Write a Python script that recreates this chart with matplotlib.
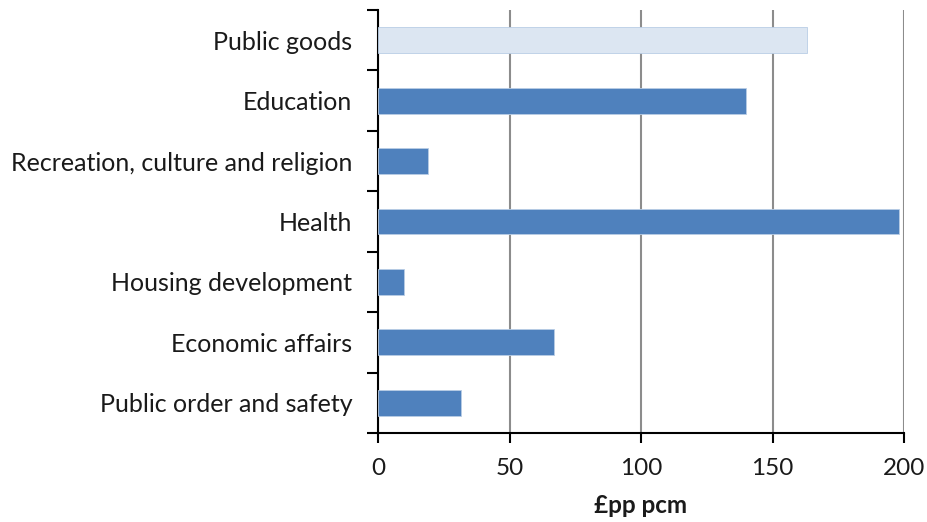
import matplotlib.pyplot as plt

categories = ["Public order and safety", "Economic affairs", "Housing development",
              "Health", "Recreation, culture and religion", "Education", "Public goods"]
values = [31.5, 67, 10, 198, 19, 140, 163]
colors = ["#4F81BD"] * 6 + ["#DCE6F2"]
xticks = [0, 50, 100, 150, 200]

plt.rcParams['font.family'] = ['Lato', 'DejaVu Sans']

fig = plt.figure(figsize=(9.28, 5.22), dpi=100)
ax = fig.add_axes([378 / 928, 1 - 433 / 522, 526 / 928, 423 / 522])

ypos = range(len(categories))
ax.barh(ypos, values, height=0.43, color=colors, edgecolor="#B9CDE5", linewidth=0.6, zorder=3)

ax.set_xlim(0, 200)
ax.set_ylim(-0.5, len(categories) - 0.5)
ax.set_xticks(xticks)
ax.set_yticks(ypos)
ax.set_yticklabels(categories)
ax.set_yticks([i - 0.5 for i in range(len(categories) + 1)], minor=True)
ax.tick_params(axis='y', which='major', length=0, pad=18.5, labelsize=18, labelcolor="#1a1a1a")
ax.tick_params(axis='y', which='minor', length=8, width=1.5, direction='out')
ax.tick_params(axis='x', length=7, width=1.5, direction='out', pad=11, labelsize=17.5, labelcolor="#1a1a1a")

ax.grid(axis='x', color="#8C8C8C", linewidth=1.5, zorder=0)
for s in ['top', 'right']:
    ax.spines[s].set_visible(False)
for s in ['left', 'bottom']:
    ax.spines[s].set_linewidth(1.5)

ax.set_xlabel("£pp pcm", fontsize=17.5, fontweight='bold', labelpad=11, color="#1a1a1a")

fig.savefig("out.png", dpi=100)
